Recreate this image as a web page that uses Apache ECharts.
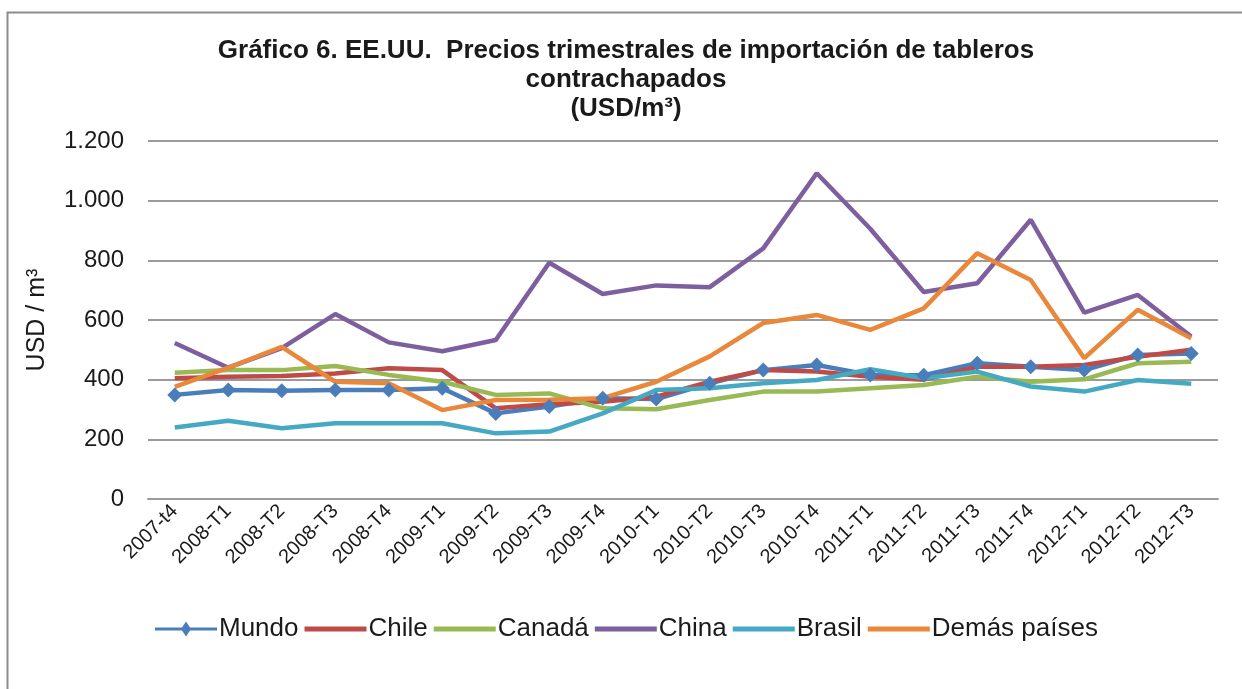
<!DOCTYPE html>
<html>
<head>
<meta charset="utf-8">
<title>Gráfico 6. EE.UU. Precios trimestrales de importación de tableros contrachapados</title>
<script src="https://cdn.jsdelivr.net/npm/echarts@6/dist/echarts.min.js"></script>
<style>
  html, body { margin: 0; padding: 0; background: #fff; }
  #main { width: 1242px; height: 689px; }
</style>
</head>
<body>
<div id="main"></div>
<script type="text/javascript">
// trimestres
var trimestres = ['2007-t4', '2008-T1', '2008-T2', '2008-T3', '2008-T4', '2009-T1', '2009-T2', '2009-T3', '2009-T4',
  '2010-T1', '2010-T2', '2010-T3', '2010-T4', '2011-T1', '2011-T2', '2011-T3', '2011-T4', '2012-T1', '2012-T2', '2012-T3'];

// precios USD/m3
var mundo  = [349, 365, 363, 365, 365, 371, 287, 310, 338, 335, 388, 432, 449, 416, 415, 455, 443, 432, 483, 488];
var chile  = [405, 410, 412, 421, 438, 432, 304, 318, 326, 343, 393, 432, 427, 410, 400, 443, 443, 449, 477, 500];
var canada = [423, 432, 432, 446, 416, 393, 349, 354, 304, 301, 332, 360, 360, 371, 382, 410, 393, 401, 455, 460];
var china  = [523, 440, 506, 620, 525, 495, 533, 792, 687, 716, 710, 840, 1092, 906, 694, 723, 936, 625, 684, 545];
var brasil = [240, 262, 237, 254, 254, 254, 220, 226, 287, 365, 371, 388, 399, 435, 405, 427, 377, 360, 399, 386];
var demas  = [376, 440, 510, 393, 388, 298, 332, 333, 338, 393, 478, 590, 617, 567, 639, 824, 734, 472, 634, 539];

var yTicks = [0, 200, 400, 600, 800, 1000, 1200];

var chart = echarts.init(document.getElementById('main'));

function serie(name, data, color, conSimbolo) {
    return {
        name: name,
        type: 'line',
        data: data,
        symbol: conSimbolo ? 'diamond' : 'none',
        symbolSize: 15,
        showSymbol: conSimbolo,
        itemStyle: {color: color},
        lineStyle: {color: color, width: 4.5},
        emphasis: {disabled: true},
        animation: false
    };
}

// iconos de leyenda: linea simple y linea con rombo
var linea = 'path://M0,0 L62,0 L62,5 L0,5 Z';
var lineaRombo = 'path://M0,6 L27,6 L31,0 L35,6 L62,6 L62,9 L35,9 L31,15 L27,9 L0,9 Z';

var option = {
    backgroundColor: '#fff',
    graphic: [{
        type: 'rect',
        left: 5, top: 10,
        shape: {width: 1300, height: 720},
        style: {fill: 'none', stroke: '#8c8c8c', lineWidth: 2},
        silent: true
    }],
    title: {
        text: 'Gráfico 6. EE.UU.  Precios trimestrales de importación de tableros\ncontrachapados\n(USD/m³)',
        left: 621, top: 31,
        textAlign: 'center',
        textStyle: {
            fontFamily: '"Liberation Sans", Arial, sans-serif',
            fontWeight: 'bold',
            fontSize: 26,
            lineHeight: 29,
            color: '#1a1a1a'
        }
    },
    legend: {
        left: 150, top: 611,
        itemWidth: 62, itemHeight: 15,
        itemGap: 6,
        textStyle: {fontFamily: '"Liberation Sans", Arial, sans-serif', fontSize: 26, color: '#1a1a1a', padding: [0, 0, 0, -3]},
        data: [
            {name: 'Mundo', icon: lineaRombo},
            {name: 'Chile', icon: linea},
            {name: 'Canadá', icon: linea},
            {name: 'China', icon: linea},
            {name: 'Brasil', icon: linea},
            {name: 'Demás países', icon: linea}
        ]
    },
    grid: {left: 148, right: 24, top: 141, bottom: 190, containLabel: false},
    xAxis: {
        type: 'category',
        data: trimestres,
        boundaryGap: true,
        axisLine: {show: true, lineStyle: {color: '#9a9a9a', width: 2}},
        axisTick: {show: false},
        axisLabel: {
            rotate: 45,
            interval: 0,
            margin: 9,
            fontFamily: '"Liberation Sans", Arial, sans-serif',
            fontSize: 20,
            color: '#1a1a1a'
        }
    },
    yAxis: {
        type: 'value',
        min: yTicks[0],
        max: yTicks[yTicks.length - 1],
        interval: 200,
        name: 'USD / m³',
        nameLocation: 'middle',
        nameGap: 98,
        nameTextStyle: {fontFamily: '"Liberation Sans", Arial, sans-serif', fontSize: 25, color: '#1a1a1a'},
        axisLine: {show: false},
        axisTick: {show: false},
        splitLine: {lineStyle: {color: '#9a9a9a', width: 2}},
        axisLabel: {
            margin: 24,
            fontFamily: '"Liberation Sans", Arial, sans-serif',
            fontSize: 24,
            color: '#1a1a1a',
            formatter: function (v) {
                return String(v).replace(/\B(?=(\d{3})+(?!\d))/g, '.');
            }
        }
    },
    series: [
        serie('Mundo', mundo, '#4a7ebb', true),
        serie('Chile', chile, '#be4b48', false),
        serie('Canadá', canada, '#98b954', false),
        serie('China', china, '#7d5fa0', false),
        serie('Brasil', brasil, '#46a9c4', false),
        serie('Demás países', demas, '#e9873a', false)
    ]
};

chart.setOption(option);
</script>
</body>
</html>
